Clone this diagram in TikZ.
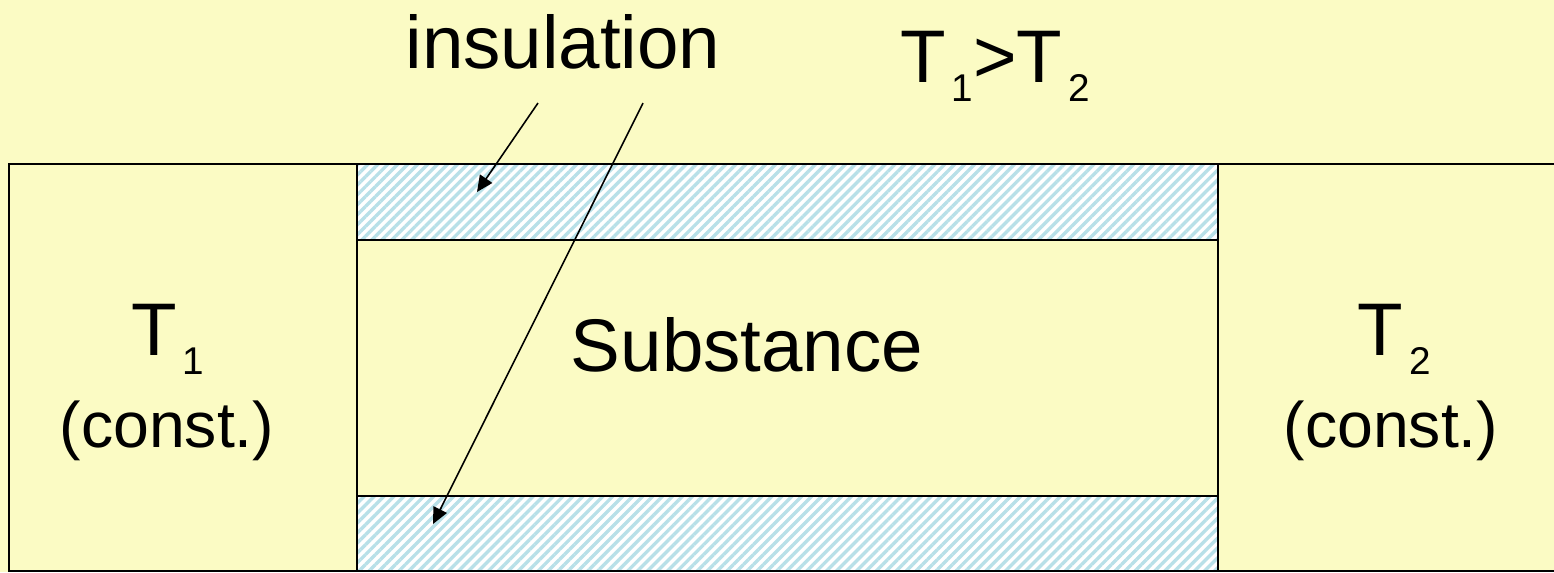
\documentclass[tikz,border=0pt]{standalone}
\usepackage{fontspec}
\setmainfont{Liberation Sans}
\usetikzlibrary{arrows.meta, patterns.meta}

\definecolor{bgyellow}{RGB}{251,251,196}
\definecolor{hatchblue}{RGB}{184,224,232}
\newcommand{\lowidx}[1]{\kern0.08em\raisebox{-0.26em}{\fontsize{11}{12}\selectfont #1}}

\begin{document}
\begin{tikzpicture}[
  x=0.01cm, y=-0.01cm,
  wall/.style={line width=0.6pt},
  insul/.style={fill=white, postaction={pattern={Lines[angle=45, distance=2pt, line width=0.95pt]}, pattern color=hatchblue}},
  lbl/.style={anchor=base, inner sep=0pt, font=\fontsize{21.2}{24}\selectfont},
  small lbl/.style={lbl, font=\fontsize{18.3}{22}\selectfont},
  pointer/.style={line width=0.45pt, -{Triangle[length=4.6pt, width=4.2pt]}},
]
  % page and background
  \useasboundingbox (0,0) rectangle (1554,572);
  \fill[bgyellow] (0,0) rectangle (1554,572);

  % insulation layers above and below the substance
  \fill[insul] (357,164) rectangle (1218,240);
  \fill[insul] (357,496) rectangle (1218,571);
  \draw[wall] (357,240) -- (1218,240);
  \draw[wall] (357,496) -- (1218,496);

  % frame and reservoir walls
  \draw[wall] (1554,164) -- (9,164) -- (9,571) -- (1554,571);
  \draw[wall] (357,164) -- (357,571);
  \draw[wall] (1218,164) -- (1218,571);

  % labels
  \node[lbl] (insulation) at (563,68) {insulation};
  \node[lbl] (order) at (995,82) {T\lowidx{1}>T\lowidx{2}};
  \node[lbl] (substance) at (747,371) {Substance};
  \node[lbl] (hot) at (168,355) {T\lowidx{1}};
  \node[small lbl] (hotconst) at (167,447) {(const.)};
  \node[lbl] (cold) at (1394,355) {T\lowidx{2}};
  \node[small lbl] (coldconst) at (1391,447) {(const.)};

  % pointers to the two layers
  \coordinate (tailA) at (538,103);
  \coordinate (tailB) at (643,103);
  \coordinate (upper) at (477,192);
  \coordinate (lower) at (433,524);
  \draw[pointer] (tailA) -- (upper);
  \draw[pointer] (tailB) -- (lower);
\end{tikzpicture}
\end{document}
